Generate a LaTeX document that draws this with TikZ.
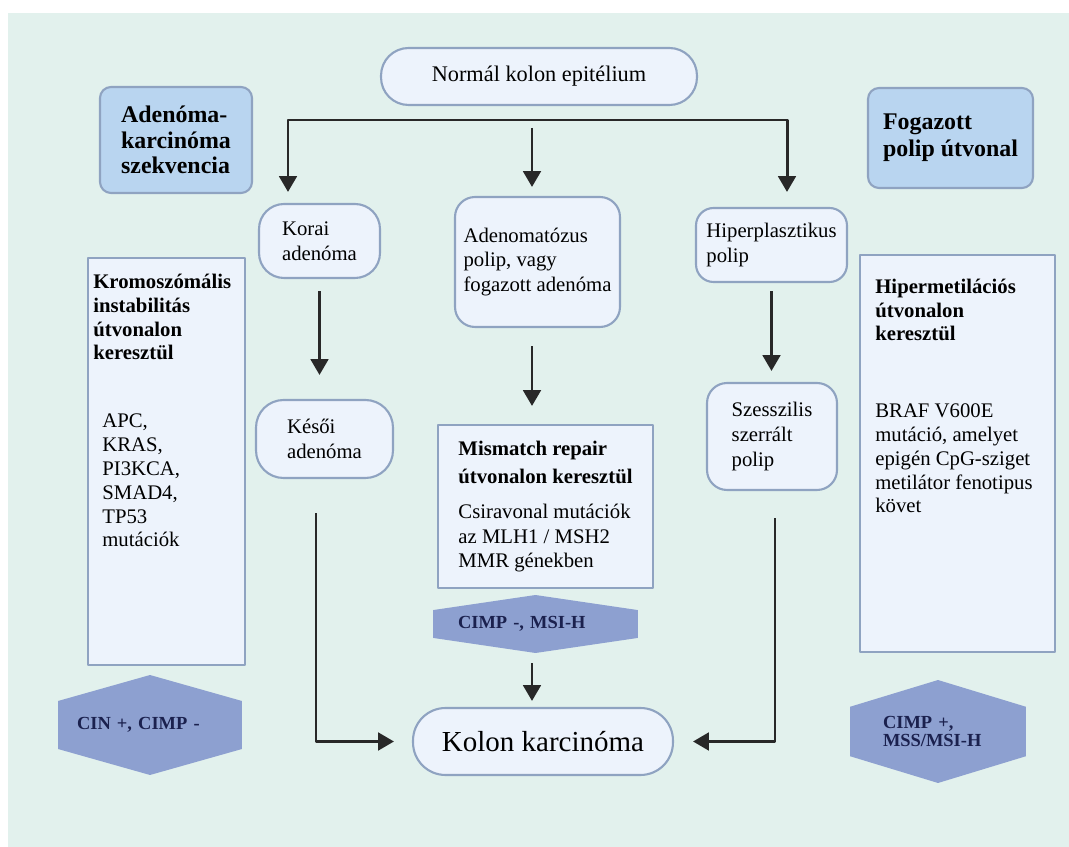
\documentclass[tikz,border=0pt]{standalone}
\usepackage{fontspec}
\setmainfont{Liberation Serif}
\usetikzlibrary{arrows.meta,calc}
\definecolor{mintbg}{RGB}{226,241,237}
\definecolor{boxfill}{RGB}{237,243,252}
\definecolor{boxedge}{RGB}{143,163,193}
\definecolor{headfill}{RGB}{185,213,240}
\definecolor{hexfill}{RGB}{141,160,208}
\definecolor{hextext}{RGB}{27,33,78}
\definecolor{arrowgray}{RGB}{40,40,40}
\begin{document}
\begin{tikzpicture}[x=0.02cm,y=-0.02cm,line join=round,
	every node/.style={inner sep=0pt},
	softbox/.style={draw=boxedge,fill=boxfill,line width=1.2pt,align=left,font=\fontsize{11.8}{14}\selectfont},
	headbox/.style={draw=boxedge,fill=headfill,line width=1.2pt,rounded corners=0.22cm,align=left,font=\fontsize{13.6}{14.6}\selectfont\bfseries},
	hexbox/.style={align=left,text=hextext,font=\fontsize{10.5}{10.5}\selectfont\bfseries,
		path picture={
			\path (path picture bounding box.north west) coordinate (hnw)
			(path picture bounding box.south east) coordinate (hse);
			\fill[hexfill] ($(hnw)!0.5!(hse |- hnw)$) -- ($(hse |- hnw)!0.26!(hse)$) -- ($(hse |- hnw)!0.74!(hse)$)
			-- ($(hnw |- hse)!0.5!(hse)$) -- ($(hnw)!0.74!(hnw |- hse)$) -- ($(hnw)!0.26!(hnw |- hse)$) -- cycle;}},
	flow/.style={-{Triangle[width=10pt,length=9pt]},line width=1.7pt,draw=arrowgray},
	flowboth/.style={{Triangle[width=10pt,length=9pt]}-{Triangle[width=10pt,length=9pt]},line width=1.7pt,draw=arrowgray},
	sidetext/.style={align=left,anchor=base west,font=\fontsize{11.8}{13.6}\selectfont}]
	\useasboundingbox (0,0) rectangle (1069,847);
	\fill[mintbg] (8,13) rectangle (1069,847);
	
	\node[softbox,rounded corners=0.55cm,minimum width=6.32cm,minimum height=1.14cm,font=\fontsize{12.7}{14}\selectfont] (normal) at (539,76.5) {Normál kolon epitélium};
	\node[headbox,minimum width=3.04cm,minimum height=2.12cm] (adenkarc) at (176,140) {Adenóma-\\karcinóma\\szekvencia};
	\node[headbox,minimum width=3.3cm,minimum height=2cm,font=\fontsize{13.6}{15.4}\selectfont\bfseries] (fogpolip) at (950.5,138) {Fogazott\\polip útvonal};
	
	\node[softbox,rounded corners=0.5cm,minimum width=2.42cm,minimum height=1.48cm] (korai) at (319.5,241) {Korai\\adenóma};
	\node[softbox,rounded corners=0.4cm,minimum width=3.3cm,minimum height=2.6cm] (adenpolip) at (537.5,262) {Adenomatózus\\polip, vagy\\fogazott adenóma};
	\node[softbox,rounded corners=0.35cm,minimum width=3.02cm,minimum height=1.48cm] (hiper) at (771.5,245) {Hiperplasztikus\\polip};
	\node[softbox,rounded corners=0.55cm,minimum width=2.74cm,minimum height=1.56cm] (kesoi) at (324.5,439) {Késői\\adenóma};
	\node[softbox,rounded corners=0.4cm,minimum width=2.6cm,minimum height=2.14cm] (szessz) at (772,436.5) {Szesszilis\\szerrált\\polip};
	\node[softbox,minimum width=4.3cm,minimum height=3.26cm] (mismatch) at (545.5,506.5) {\textbf{Mismatch repair}\\[2pt]\textbf{útvonalon keresztül}\\[6pt]Csiravonal mutációk\\az MLH1 / MSH2\\MMR génekben};
	
	\node[softbox,minimum width=3.14cm,minimum height=8.14cm] (kromobox) at (166.5,461.5) {};
	\node[sidetext,font=\fontsize{11.8}{13.6}\selectfont\bfseries] (kromotitle) at (93,360) {Kromoszómális\\instabilitás\\útvonalon\\keresztül};
	\node[sidetext] (kromogenes) at (102,547) {APC,\\KRAS,\\PI3KCA,\\SMAD4,\\TP53\\mutációk};
	\node[softbox,minimum width=3.9cm,minimum height=7.94cm] (metilbox) at (957.5,453.5) {};
	\node[sidetext,font=\fontsize{11.8}{13.6}\selectfont\bfseries] (metiltitle) at (875,341) {Hipermetilációs\\útvonalon\\keresztül};
	\node[sidetext] (metilbraf) at (875,513) {BRAF V600E\\mutáció, amelyet\\epigén CpG-sziget\\metilátor fenotipus\\követ};
	
	\node[hexbox,minimum width=4.1cm,minimum height=1.16cm,text width=3.1cm] (hexmsi) at (535.5,624) {CIMP -, MSI-H};
	\node[hexbox,minimum width=3.68cm,minimum height=2cm,text width=2.92cm] (hexcin) at (150,725) {CIN +, CIMP -};
	\node[hexbox,minimum width=3.52cm,minimum height=2.06cm,text width=2.2cm] (hexplus) at (938,731.5) {CIMP +,\\MSS/MSI-H};
	
	\node[softbox,rounded corners=0.65cm,minimum width=5.2cm,minimum height=1.34cm,font=\fontsize{16.5}{18}\selectfont] (kolon) at (543,741.5) {Kolon karcinóma};
	
	\coordinate (forkL) at (288,120);
	\coordinate (forkR) at (787,120);
	\coordinate (forkM) at (532,128);
	\draw[flowboth,shorten <=0.22cm,shorten >=0.3cm] (forkL |- korai.north) -- (forkL) -- (forkR) -- (forkR |- hiper.north);
	\draw[flow,shorten >=0.18cm] (forkM) -- (forkM |- adenpolip.north);
	\draw[flow,shorten <=0.24cm,shorten >=0.48cm] (korai.south) -- (korai.south |- kesoi.north);
	\draw[flow,shorten <=0.36cm,shorten >=0.36cm] (forkM |- adenpolip.south) -- (forkM |- mismatch.north);
	\draw[flow,shorten <=0.16cm,shorten >=0.22cm] (hiper.south) -- (hiper.south |- szessz.north);
	\draw[flow,shorten <=0.68cm,shorten >=0.36cm] ([xshift=-0.17cm]kesoi.south) |- (kolon.west);
	\draw[flow,shorten <=0.54cm,shorten >=0.38cm] ([xshift=0.06cm]szessz.south) |- (kolon.east);
	\draw[flow,shorten <=0.2cm,shorten >=0.12cm] ([xshift=-0.07cm]hexmsi.south) -- ([xshift=-0.07cm]hexmsi.south |- kolon.north);
\end{tikzpicture}
\end{document}
